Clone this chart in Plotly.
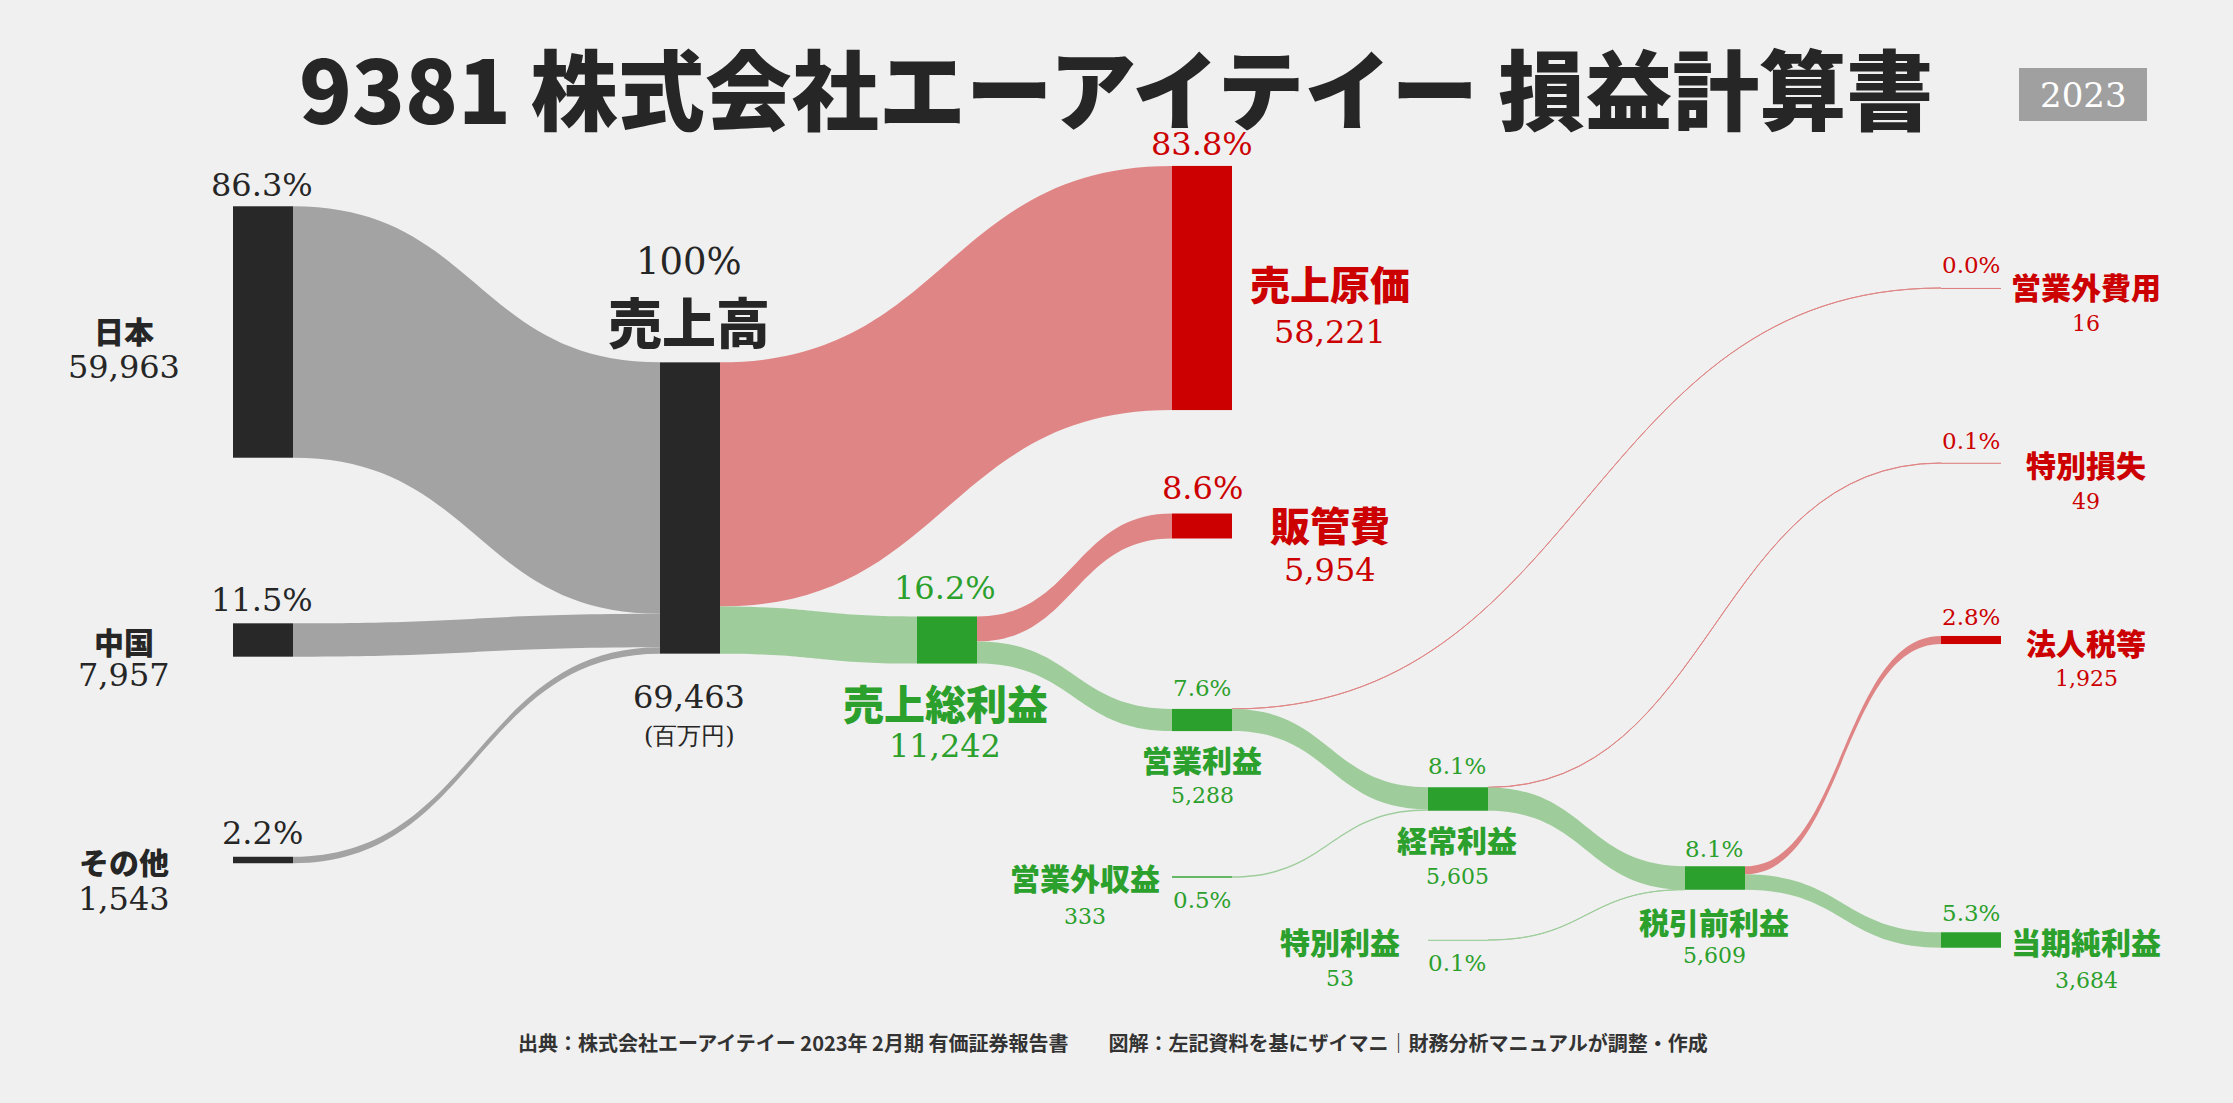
import plotly.graph_objects as go

# ---------------- data ----------------
node_names = ["日本", "中国", "その他", "売上高", "売上原価", "売上総利益", "販管費",
              "営業利益", "営業外収益", "営業外費用", "経常利益", "特別利益",
              "特別損失", "税引前利益", "法人税等", "当期純利益"]
node_kind = ["rev", "rev", "rev", "rev", "cost", "profit", "cost",
             "profit", "profit", "cost", "profit", "profit",
             "cost", "profit", "cost", "profit"]

link_source = ["日本", "中国", "その他", "売上高", "売上高", "売上総利益", "売上総利益",
               "営業利益", "営業利益", "営業外収益", "経常利益", "経常利益",
               "特別利益", "税引前利益", "税引前利益"]
link_target = ["売上高", "売上高", "売上高", "売上原価", "売上総利益", "販管費", "営業利益",
               "営業外費用", "経常利益", "経常利益", "特別損失", "税引前利益",
               "税引前利益", "法人税等", "当期純利益"]
link_value = [59963, 7957, 1543, 58221, 11242, 5954, 5288,
              16, 5272, 333, 49, 5556, 53, 1925, 3684]

title_text = "9381 株式会社エーアイテイー 損益計算書"
year_text = "2023"
unit_text = "(百万円)"
source_text = ("出典：株式会社エーアイテイー 2023年 2月期 有価証券報告書　　"
               "図解：左記資料を基にザイマニ｜財務分析マニュアルが調整・作成")

# ---------------- layout / style ----------------
W, H = 2233, 1103
BG = "#f0f0f0"
DOM_TOP, DOM_BOT = 150, 960          # sankey domain, px from top
DOM_H = DOM_BOT - DOM_TOP
NODE_SPACE = 292.9                    # px taken by the tallest column of nodes
PAD = (DOM_H - NODE_SPACE) / 5        # 6 nodes in the busiest column
THICK = 60

node_color = {"rev": "#282828", "cost": "#cc0000", "profit": "#2ca02c"}
text_color = {"rev": "#262626", "cost": "#cc0000", "profit": "#2ca02c"}
link_color_src = {"rev": "#a3a3a3", "cost": "#e08585", "profit": "#9ecd9b"}

# node centre positions (px)
node_pos = {
    "日本": (263, 332), "中国": (263, 640), "その他": (263, 860),
    "売上高": (690, 508), "売上原価": (1202, 288), "売上総利益": (947, 640),
    "販管費": (1202, 526), "営業利益": (1202, 720), "営業外収益": (1202, 877),
    "営業外費用": (1971, 288), "経常利益": (1458, 799), "特別利益": (1458, 940),
    "特別損失": (1971, 463), "税引前利益": (1715, 878), "法人税等": (1971, 640),
    "当期純利益": (1971, 940),
}

# label anchors (px): pct, name, value
pct_pos = {
    "日本": (262, 185), "中国": (262, 600), "その他": (262, 833), "売上高": (689, 261),
    "売上原価": (1202, 144), "売上総利益": (945, 588), "販管費": (1202, 488),
    "営業利益": (1202, 688), "営業外収益": (1202, 900), "営業外費用": (1971, 265),
    "経常利益": (1457, 766), "特別利益": (1457, 963), "特別損失": (1971, 441),
    "税引前利益": (1714, 849), "法人税等": (1971, 617), "当期純利益": (1971, 913),
}
name_pos = {
    "日本": (124, 330), "中国": (124, 641), "その他": (124, 861), "売上高": (689, 320),
    "売上原価": (1330, 283), "売上総利益": (945, 702), "販管費": (1330, 524),
    "営業利益": (1202, 759), "営業外収益": (1085, 877), "営業外費用": (2086, 286),
    "経常利益": (1457, 839), "特別利益": (1340, 941), "特別損失": (2086, 464),
    "税引前利益": (1714, 921), "法人税等": (2086, 642), "当期純利益": (2086, 941),
}
value_pos = {
    "日本": (124, 367), "中国": (124, 675), "その他": (124, 899), "売上高": (689, 697),
    "売上原価": (1330, 332), "売上総利益": (945, 746), "販管費": (1330, 570),
    "営業利益": (1202, 795), "営業外収益": (1085, 916), "営業外費用": (2086, 323),
    "経常利益": (1457, 876), "特別利益": (1340, 978), "特別損失": (2086, 501),
    "税引前利益": (1714, 955), "法人税等": (2086, 678), "当期純利益": (2086, 980),
}
big = {"売上原価": 40, "販管費": 40, "売上総利益": 41}
left = {"日本", "中国", "その他"}

SERIF = "DejaVu Serif, Liberation Serif, serif"
SANS = "Noto Sans CJK JP, Noto Sans, sans-serif"

# ---------------- computations ----------------
idx = {n: i for i, n in enumerate(node_names)}
in_sum = {n: 0 for n in node_names}
out_sum = {n: 0 for n in node_names}
for s, t, v in zip(link_source, link_target, link_value):
    out_sum[s] += v
    in_sum[t] += v
node_value = {n: max(in_sum[n], out_sum[n]) for n in node_names}
sales = node_value["売上高"]

link_colors = []
for s, t in zip(link_source, link_target):
    kt = node_kind[idx[t]]
    ks = node_kind[idx[s]]
    if ks == "rev" and kt == "rev":
        link_colors.append(link_color_src["rev"])
    elif kt == "cost":
        link_colors.append(link_color_src["cost"])
    else:
        link_colors.append(link_color_src["profit"])

fig = go.Figure(go.Sankey(
    arrangement="fixed",
    domain=dict(x=[0, 1], y=[1 - DOM_BOT / H, 1 - DOM_TOP / H]),
    hoverinfo="none",
    node=dict(
        label=node_names,
        x=[node_pos[n][0] / W for n in node_names],
        y=[(node_pos[n][1] - DOM_TOP) / DOM_H for n in node_names],
        pad=PAD,
        thickness=THICK,
        color=[node_color[k] for k in node_kind],
        line=dict(width=0),
        hoverinfo="none",
    ),
    link=dict(
        source=[idx[s] for s in link_source],
        target=[idx[t] for t in link_target],
        value=link_value,
        color=link_colors,
        line=dict(color="rgba(0,0,0,0)", width=0),
        hoverinfo="none",
    ),
    textfont=dict(color="rgba(0,0,0,0)", size=1),
))


def ann(text, px, py, size, color, family, weight="normal", xanchor="center"):
    fig.add_annotation(x=px / W, y=1 - py / H, xref="paper", yref="paper",
                       text=text, showarrow=False, xanchor=xanchor, yanchor="middle",
                       font=dict(size=size, color=color, family=family, weight=weight))


for n, k in zip(node_names, node_kind):
    c = text_color[k]
    v = node_value[n]
    if n == "売上高":
        pct = "100%"
        ps, ns, vs = 37, 54, 32
    elif n in left:
        pct = f"{v / sales * 100:.1f}%"
        ps, ns, vs = 32, 30, 32
    elif n in big:
        pct = f"{v / sales * 100:.1f}%"
        ps, ns, vs = 32, big[n], 32
    else:
        pct = f"{v / sales * 100:.1f}%"
        ps, ns, vs = 23, 30, 22
    ann(pct, *pct_pos[n], ps, c, SERIF)
    ann(n, *name_pos[n], ns, c, SANS, weight=900)
    ann(f"{v:,}", *value_pos[n], vs, c, SERIF)

ann(unit_text, 689, 736, 24, "#262626", SERIF)

# title
ann(title_text, 1116, 86, 87, "#262626", SANS, weight=900)
fig.add_shape(type="rect", xref="paper", yref="paper",
              x0=2019 / W, x1=2147 / W, y0=1 - 121 / H, y1=1 - 68 / H,
              fillcolor="#a0a0a0", line=dict(width=0), layer="below")
ann(year_text, 2083, 95, 34, "white", SERIF)
ann(source_text, 1113, 1042, 20, "#333333", SANS, weight="bold")

fig.update_layout(
    width=W, height=H, autosize=False,
    margin=dict(l=0, r=0, t=0, b=0),
    paper_bgcolor=BG, plot_bgcolor=BG,
    showlegend=False,
)

fig.write_html("out.html", config={"displayModeBar": False},
               post_script="document.body.style.margin='0';document.body.style.overflow='hidden';")
